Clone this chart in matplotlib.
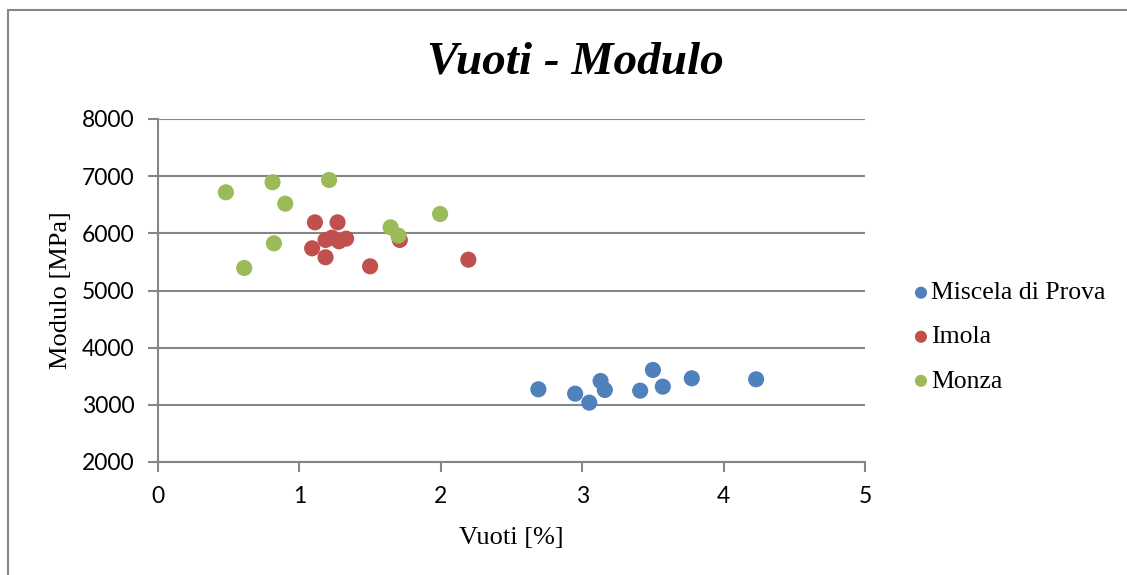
import matplotlib
matplotlib.use("Agg")
import matplotlib.pyplot as plt
from matplotlib.patches import Rectangle

# data
prova_x = [2.69, 2.95, 3.05, 3.13, 3.16, 3.41, 3.50, 3.57, 3.775, 4.23]
prova_y = [3272, 3195, 3038, 3417, 3260, 3248, 3610, 3318, 3464, 3447]

imola_x = [1.11, 1.27, 1.185, 1.23, 1.28, 1.33, 1.71, 1.09, 1.185, 1.50, 2.195]
imola_y = [6192, 6192, 5884, 5924, 5861, 5907, 5884, 5738, 5581, 5423, 5539]

monza_x = [0.48, 0.81, 1.21, 0.90, 1.995, 1.645, 1.70, 0.82, 0.61]
monza_y = [6718, 6893, 6933, 6519, 6338, 6105, 5960, 5825, 5394]

series = ["Miscela di Prova", "Imola", "Monza"]
colors = ["#4F81BD", "#C0504D", "#9BBB59"]
x_ticks = [0, 1, 2, 3, 4, 5]
y_ticks = [2000, 3000, 4000, 5000, 6000, 7000, 8000]

W, H = 1127, 575
fig = plt.figure(figsize=(W / 100, H / 100), dpi=100)
ax = fig.add_axes([158 / W, 1 - 462 / H, (865 - 158) / W, (462 - 119) / H])

grey = "#868686"
for xs, ys, c, name in zip([prova_x, imola_x, monza_x], [prova_y, imola_y, monza_y], colors, series):
    ax.scatter(xs, ys, s=135, color=c, edgecolors="none", label=name, zorder=3)

ax.set_xlim(0, 5)
ax.set_ylim(2000, 8000)
ax.set_xticks(x_ticks)
ax.set_yticks(y_ticks)
ax.yaxis.grid(True, color=grey, linewidth=1.5)
ax.set_axisbelow(True)
for s in ["top", "right"]:
    ax.spines[s].set_visible(False)
for s in ["left", "bottom"]:
    ax.spines[s].set_color(grey)
    ax.spines[s].set_linewidth(1.5)
ax.tick_params(axis="both", colors=grey, width=1.5, length=7, labelcolor="black",
               labelsize=16.5)
ax.tick_params(axis="y", pad=10)
ax.tick_params(axis="x", pad=10)
for lab in ax.get_xticklabels() + ax.get_yticklabels():
    lab.set_family("Lato")

serif = "Liberation Serif"
ax.set_xlabel("Vuoti [%]", family=serif, fontsize=19, labelpad=15)
ax.set_ylabel("Modulo [MPa]", family=serif, fontsize=19, labelpad=7)
fig.text(575 / W, 1 - 62 / H, "Vuoti - Modulo", family=serif, fontsize=34,
         fontweight="bold", fontstyle="italic", ha="center", va="center")

leg = ax.legend(loc="center left", bbox_to_anchor=(885 / W, 1 - 337 / H),
                bbox_transform=fig.transFigure, frameon=False,
                prop={"family": serif, "size": 18.5}, handletextpad=-0.1,
                labelspacing=0.82, markerscale=0.75, handlelength=1.0)

fig.patches.append(Rectangle((8 / W, -1), 2, 2 - 10 / H, transform=fig.transFigure,
                             fill=False, edgecolor=grey, linewidth=1.5))

fig.savefig("out.png", dpi=100)
